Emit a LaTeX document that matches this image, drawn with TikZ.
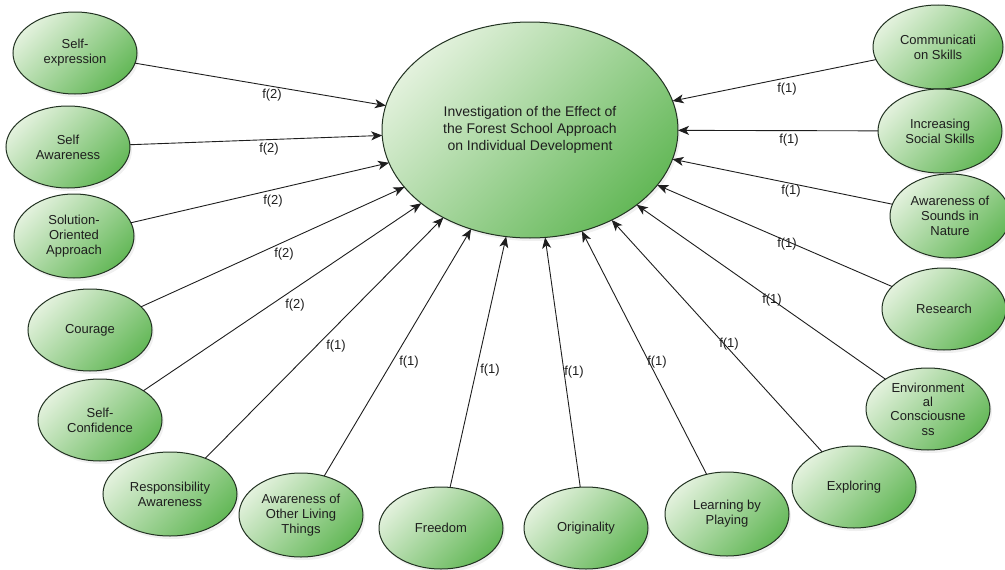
\documentclass[tikz,border=0pt]{standalone}
\usepackage{fontspec}
\setmainfont{Liberation Sans}
\usetikzlibrary{shapes.geometric,arrows.meta,shadows}
\definecolor{leafLight}{RGB}{226,241,220}
\definecolor{leafDark}{RGB}{100,184,88}
\definecolor{rim}{RGB}{34,50,34}
\definecolor{ink}{RGB}{30,30,30}

\begin{document}
\begin{tikzpicture}[x=1pt,y=-1pt,
  topic/.style={ellipse, draw=rim, line width=1pt,
    top color=leafLight, bottom color=leafDark, shading angle=45,
    inner sep=0pt, outer sep=0pt, align=center, text=ink,
    font=\fontsize{13}{15}\selectfont,
    minimum width=124pt, minimum height=82pt,
    drop shadow={shadow xshift=2pt, shadow yshift=-3pt, opacity=0.12}},
  goal/.style={topic, minimum width=296pt, minimum height=216pt,
    font=\fontsize{14}{17}\selectfont},
  feed/.style={draw=ink, line width=0.9pt, -{Stealth[length=11pt,width=9pt,inset=3pt]}},
  wt/.style={font=\fontsize{13}{15}\selectfont, text=ink, inner sep=1pt}]

\useasboundingbox (0,0) rectangle (1005,570);

% central outcome
\node[goal] (goal) at (530,130)
  {Investigation of the Effect of\\the Forest School Approach\\on Individual Development};

% contributing factors
\node[topic] (sexp) at (75,53) {Self-\\expression};
\node[topic] (saw)  at (68,147) {Self\\Awareness};
\node[topic, minimum width=120pt, minimum height=84pt] (sol) at (74,236) {Solution-\\Oriented\\Approach};
\node[topic] (cour) at (90,330) {Courage};
\node[topic] (conf) at (100,420) {Self-\\Confidence};
\node[topic, minimum width=134pt, minimum height=84pt] (resp) at (170,494) {Responsibility\\Awareness};
\node[topic, minimum height=84pt] (living) at (301,515) {Awareness of\\Other Living\\Things};
\node[topic] (free) at (441,528) {Freedom};
\node[topic] (orig) at (586,528) {Originality};
\node[topic, minimum height=84pt] (play) at (727,514) {Learning by\\Playing};
\node[topic] (expl) at (854,487) {Exploring};
\node[topic, inner ysep=-4pt, font=\fontsize{13}{14.3}\selectfont] (env) at (928,409)
  {Environment\\al\\Consciousne\\ss};
\node[topic] (res) at (944,309) {Research};
\node[topic, minimum width=130pt, minimum height=84pt] (comm) at (938,47) {Communicati\\on Skills};
\node[topic, minimum height=84pt] (soc) at (940,131) {Increasing\\Social Skills};
\node[topic, minimum width=120pt, minimum height=84pt] (snd) at (950,216) {Awareness of\\Sounds in\\Nature};

% links into the outcome
\foreach \src in {sexp,saw,sol,cour,conf,resp,living,free,orig,play,expl,env,res,comm,soc,snd}
  \draw[feed] (\src) -- (goal);

% link weights
\node[wt] (w1)  at (272,95)  {f(2)};
\node[wt] (w2)  at (269,149) {f(2)};
\node[wt] (w3)  at (273,201) {f(2)};
\node[wt] (w4)  at (284,254) {f(2)};
\node[wt] (w5)  at (295,305) {f(2)};
\node[wt] (w6)  at (336,346) {f(1)};
\node[wt] (w7)  at (409,362) {f(1)};
\node[wt] (w8)  at (490,370) {f(1)};
\node[wt] (w9)  at (574,372) {f(1)};
\node[wt] (w10) at (657,362) {f(1)};
\node[wt] (w11) at (729,344) {f(1)};
\node[wt] (w12) at (772,300) {f(1)};
\node[wt] (w13) at (787,244) {f(1)};
\node[wt] (w14) at (791,191) {f(1)};
\node[wt] (w15) at (789,140) {f(1)};
\node[wt] (w16) at (787,89)  {f(1)};
\end{tikzpicture}
\end{document}
